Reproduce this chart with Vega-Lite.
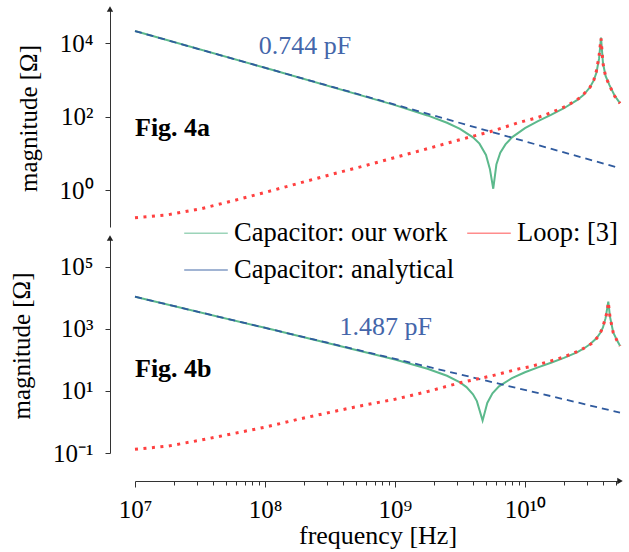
{
  "$schema": "https://vega.github.io/schema/vega-lite/v6.json",
  "autosize": {"type": "none"},
  "padding": {"left": 135, "top": 9, "right": 494, "bottom": 543},
  "bounds": "flush",
  "spacing": 11,
  "config": {
    "font": "Liberation Serif",
    "view": {"stroke": null},
    "axis": {"grid": false, "domainColor": "#333", "tickColor": "#333", "labelColor": "#000", "titleColor": "#000", "labelFont": "Liberation Serif", "titleFont": "Liberation Serif", "titleFontWeight": "normal", "labelFontSize": 25, "titleFontSize": 25, "domainWidth": 1, "tickWidth": 1}
  },
  "datasets": {
    "a": [
      {"s": "Capacitor: analytical", "f": 1e7, "z": 21390},
      {"s": "Capacitor: analytical", "f": 5.383e10, "z": 3.97},
      {"s": "Loop: [3]", "f": 1e7, "z": 0.178},
      {"s": "Loop: [3]", "f": 1.778e7, "z": 0.214},
      {"s": "Loop: [3]", "f": 3.162e7, "z": 0.309},
      {"s": "Loop: [3]", "f": 5.623e7, "z": 0.513},
      {"s": "Loop: [3]", "f": 1e8, "z": 0.871},
      {"s": "Loop: [3]", "f": 1.778e8, "z": 1.514},
      {"s": "Loop: [3]", "f": 3.162e8, "z": 2.63},
      {"s": "Loop: [3]", "f": 5.623e8, "z": 4.47},
      {"s": "Loop: [3]", "f": 1e9, "z": 7.76},
      {"s": "Loop: [3]", "f": 1.778e9, "z": 13.5},
      {"s": "Loop: [3]", "f": 3.162e9, "z": 23.7},
      {"s": "Loop: [3]", "f": 5.623e9, "z": 40.7},
      {"s": "Loop: [3]", "f": 9.12e9, "z": 70.8},
      {"s": "Loop: [3]", "f": 1.259e10, "z": 95.5},
      {"s": "Loop: [3]", "f": 1.585e10, "z": 128.8},
      {"s": "Loop: [3]", "f": 2.089e10, "z": 195},
      {"s": "Loop: [3]", "f": 2.692e10, "z": 339},
      {"s": "Loop: [3]", "f": 3.162e10, "z": 631},
      {"s": "Loop: [3]", "f": 3.388e10, "z": 1000},
      {"s": "Loop: [3]", "f": 3.548e10, "z": 1778},
      {"s": "Loop: [3]", "f": 3.715e10, "z": 4467},
      {"s": "Loop: [3]", "f": 3.846e10, "z": 13490},
      {"s": "Loop: [3]", "f": 3.981e10, "z": 2818},
      {"s": "Loop: [3]", "f": 4.169e10, "z": 1259},
      {"s": "Loop: [3]", "f": 4.467e10, "z": 708},
      {"s": "Loop: [3]", "f": 4.898e10, "z": 363},
      {"s": "Loop: [3]", "f": 5.383e10, "z": 229},
      {"s": "Capacitor: our work", "f": 1e7, "z": 21380},
      {"s": "Capacitor: our work", "f": 1e8, "z": 2138},
      {"s": "Capacitor: our work", "f": 1e9, "z": 207},
      {"s": "Capacitor: our work", "f": 1.778e9, "z": 108.4},
      {"s": "Capacitor: our work", "f": 2.512e9, "z": 68.5},
      {"s": "Capacitor: our work", "f": 3.162e9, "z": 46.8},
      {"s": "Capacitor: our work", "f": 3.981e9, "z": 27.5},
      {"s": "Capacitor: our work", "f": 4.467e9, "z": 18.5},
      {"s": "Capacitor: our work", "f": 5.012e9, "z": 9.12},
      {"s": "Capacitor: our work", "f": 5.37e9, "z": 3.8},
      {"s": "Capacitor: our work", "f": 5.702e9, "z": 1.1},
      {"s": "Capacitor: our work", "f": 6.026e9, "z": 5.0},
      {"s": "Capacitor: our work", "f": 6.457e9, "z": 10.5},
      {"s": "Capacitor: our work", "f": 7.079e9, "z": 17.6},
      {"s": "Capacitor: our work", "f": 7.943e9, "z": 27.5},
      {"s": "Capacitor: our work", "f": 1e10, "z": 49},
      {"s": "Capacitor: our work", "f": 1.259e10, "z": 75.9},
      {"s": "Capacitor: our work", "f": 1.585e10, "z": 112},
      {"s": "Capacitor: our work", "f": 1.995e10, "z": 170},
      {"s": "Capacitor: our work", "f": 2.512e10, "z": 282},
      {"s": "Capacitor: our work", "f": 2.818e10, "z": 389},
      {"s": "Capacitor: our work", "f": 3.162e10, "z": 631},
      {"s": "Capacitor: our work", "f": 3.388e10, "z": 989},
      {"s": "Capacitor: our work", "f": 3.548e10, "z": 1585},
      {"s": "Capacitor: our work", "f": 3.715e10, "z": 3802},
      {"s": "Capacitor: our work", "f": 3.846e10, "z": 14125},
      {"s": "Capacitor: our work", "f": 3.981e10, "z": 2884},
      {"s": "Capacitor: our work", "f": 4.169e10, "z": 1288},
      {"s": "Capacitor: our work", "f": 4.467e10, "z": 724},
      {"s": "Capacitor: our work", "f": 4.898e10, "z": 372},
      {"s": "Capacitor: our work", "f": 5.383e10, "z": 234}
    ],
    "b": [
      {"s": "Capacitor: analytical", "f": 1e7, "z": 10703},
      {"s": "Capacitor: analytical", "f": 5.383e10, "z": 1.988},
      {"s": "Loop: [3]", "f": 1e7, "z": 0.132},
      {"s": "Loop: [3]", "f": 1.778e7, "z": 0.166},
      {"s": "Loop: [3]", "f": 3.162e7, "z": 0.257},
      {"s": "Loop: [3]", "f": 5.623e7, "z": 0.417},
      {"s": "Loop: [3]", "f": 1e8, "z": 0.676},
      {"s": "Loop: [3]", "f": 1.778e8, "z": 1.202},
      {"s": "Loop: [3]", "f": 3.162e8, "z": 2.04},
      {"s": "Loop: [3]", "f": 5.623e8, "z": 3.39},
      {"s": "Loop: [3]", "f": 1e9, "z": 5.37},
      {"s": "Loop: [3]", "f": 1.778e9, "z": 9.48},
      {"s": "Loop: [3]", "f": 3.162e9, "z": 18.2},
      {"s": "Loop: [3]", "f": 5.623e9, "z": 30.9},
      {"s": "Loop: [3]", "f": 9.12e9, "z": 52},
      {"s": "Loop: [3]", "f": 1.096e10, "z": 60.3},
      {"s": "Loop: [3]", "f": 1.479e10, "z": 84.3},
      {"s": "Loop: [3]", "f": 1.95e10, "z": 119.4},
      {"s": "Loop: [3]", "f": 2.57e10, "z": 189.7},
      {"s": "Loop: [3]", "f": 2.985e10, "z": 263},
      {"s": "Loop: [3]", "f": 3.357e10, "z": 368},
      {"s": "Loop: [3]", "f": 3.707e10, "z": 603},
      {"s": "Loop: [3]", "f": 3.954e10, "z": 1059},
      {"s": "Loop: [3]", "f": 4.121e10, "z": 1950},
      {"s": "Loop: [3]", "f": 4.295e10, "z": 3597},
      {"s": "Loop: [3]", "f": 4.375e10, "z": 7079},
      {"s": "Loop: [3]", "f": 4.508e10, "z": 2399},
      {"s": "Loop: [3]", "f": 4.775e10, "z": 741},
      {"s": "Loop: [3]", "f": 5.129e10, "z": 398},
      {"s": "Loop: [3]", "f": 5.383e10, "z": 275},
      {"s": "Capacitor: our work", "f": 1e7, "z": 10703},
      {"s": "Capacitor: our work", "f": 1e8, "z": 1070},
      {"s": "Capacitor: our work", "f": 1e9, "z": 102.3},
      {"s": "Capacitor: our work", "f": 1.778e9, "z": 51.6},
      {"s": "Capacitor: our work", "f": 2.512e9, "z": 30.6},
      {"s": "Capacitor: our work", "f": 3.162e9, "z": 18.8},
      {"s": "Capacitor: our work", "f": 3.548e9, "z": 13.2},
      {"s": "Capacitor: our work", "f": 3.981e9, "z": 7.76},
      {"s": "Capacitor: our work", "f": 4.266e9, "z": 4.68},
      {"s": "Capacitor: our work", "f": 4.721e9, "z": 1.1},
      {"s": "Capacitor: our work", "f": 5.129e9, "z": 4.07},
      {"s": "Capacitor: our work", "f": 5.623e9, "z": 8.3},
      {"s": "Capacitor: our work", "f": 6.31e9, "z": 14.0},
      {"s": "Capacitor: our work", "f": 7.943e9, "z": 25.7},
      {"s": "Capacitor: our work", "f": 1e10, "z": 39.8},
      {"s": "Capacitor: our work", "f": 1.259e10, "z": 57.1},
      {"s": "Capacitor: our work", "f": 1.585e10, "z": 80.5},
      {"s": "Capacitor: our work", "f": 1.995e10, "z": 114.8},
      {"s": "Capacitor: our work", "f": 2.512e10, "z": 173.8},
      {"s": "Capacitor: our work", "f": 2.818e10, "z": 227},
      {"s": "Capacitor: our work", "f": 3.162e10, "z": 316},
      {"s": "Capacitor: our work", "f": 3.548e10, "z": 490},
      {"s": "Capacitor: our work", "f": 3.802e10, "z": 741},
      {"s": "Capacitor: our work", "f": 3.981e10, "z": 1096},
      {"s": "Capacitor: our work", "f": 4.169e10, "z": 2188},
      {"s": "Capacitor: our work", "f": 4.375e10, "z": 7413},
      {"s": "Capacitor: our work", "f": 4.508e10, "z": 2455},
      {"s": "Capacitor: our work", "f": 4.775e10, "z": 759},
      {"s": "Capacitor: our work", "f": 5.129e10, "z": 407},
      {"s": "Capacitor: our work", "f": 5.383e10, "z": 282}
    ]
  },
  "resolve": {"scale": {"x": "independent", "y": "independent", "color": "shared"}, "legend": {"color": "shared"}},
  "vconcat": [
    {
      "width": 485,
      "height": 218,
      "encoding": {
        "x": {"field": "f", "type": "quantitative", "scale": {"type": "log", "domain": [1e7, 5.383e10], "nice": false}, "axis": null},
        "y": {"field": "z", "type": "quantitative", "scale": {"type": "log", "domain": [0.1, 85110], "nice": false},
          "axis": {"offset": 25, "values": [1, 100, 10000], "labelExpr": "datum.value < 10 ? '10⁰' : datum.value < 1000 ? '10²' : '10⁴'", "title": "magnitude [Ω]", "tickSize": 5, "labelPadding": 12, "titlePadding": 18}}
      },
      "layer": [
        {
          "data": {"name": "a"},
          "transform": [{"filter": "datum.s == 'Capacitor: our work'"}],
          "mark": {"type": "line", "strokeWidth": 2},
          "encoding": {"color": {"field": "s", "type": "nominal",
            "scale": {"domain": ["Capacitor: our work", "Capacitor: analytical", "Loop: [3]"], "range": ["#5cb98c", "#2f5a9e", "#ff4040"]},
            "legend": {"title": null, "orient": "none", "legendX": 48, "legendY": 201, "columns": 2, "columnPadding": 10, "rowPadding": -1, "symbolType": "stroke", "symbolSize": 1900, "symbolStrokeWidth": 1.5, "symbolOpacity": 0.6, "symbolDash": [], "labelFontSize": 26.5, "labelFont": "Liberation Serif", "labelColor": "#000", "labelOffset": 5, "labelLimit": 500}}}
        },
        {
          "data": {"name": "a"},
          "transform": [{"filter": "datum.s == 'Capacitor: analytical'"}],
          "mark": {"type": "line", "strokeWidth": 1.8, "strokeDash": [7, 5]},
          "encoding": {"color": {"field": "s", "type": "nominal", "scale": {"domain": ["Capacitor: our work", "Capacitor: analytical", "Loop: [3]"], "range": ["#5cb98c", "#2f5a9e", "#ff4040"]}}}
        },
        {
          "data": {"name": "a"},
          "transform": [{"filter": "datum.s == 'Loop: [3]'"}],
          "mark": {"type": "line", "strokeWidth": 3, "strokeDash": [3, 5.5], "strokeCap": "butt"},
          "encoding": {"color": {"field": "s", "type": "nominal", "scale": {"domain": ["Capacitor: our work", "Capacitor: analytical", "Loop: [3]"], "range": ["#5cb98c", "#2f5a9e", "#ff4040"]}}}
        },
        {
          "data": {"values": [{"t": "0.744 pF", "f": 2.03e8, "z": 8318}]},
          "mark": {"type": "text", "fontSize": 26, "color": "#4466aa", "align": "center", "baseline": "middle"},
          "encoding": {"text": {"field": "t"}}
        },
        {
          "data": {"values": [{"t": "Fig. 4a", "f": 1e7, "z": 49}]},
          "mark": {"type": "text", "fontSize": 26, "fontWeight": "bold", "color": "#000", "align": "left", "baseline": "middle"},
          "encoding": {"text": {"field": "t"}}
        },
        {
          "data": {"values": [{"f": 1e7, "z": 85110}]},
          "mark": {"type": "point", "shape": "triangle-up", "filled": true, "size": 40, "color": "#222", "opacity": 1, "xOffset": -25}
        }
      ]
    },
    {
      "width": 485,
      "height": 215,
      "encoding": {
        "x": {"field": "f", "type": "quantitative", "scale": {"type": "log", "domain": [1e7, 5.383e10], "nice": false},
          "axis": {"offset": 28, "title": "frequency [Hz]", "titleFontSize": 26,
            "values": [1e7, 2e7, 3e7, 4e7, 5e7, 6e7, 7e7, 8e7, 9e7, 1e8, 2e8, 3e8, 4e8, 5e8, 6e8, 7e8, 8e8, 9e8, 1e9, 2e9, 3e9, 4e9, 5e9, 6e9, 7e9, 8e9, 9e9, 1e10, 2e10, 3e10, 4e10, 5e10],
            "labelExpr": "abs(log(datum.value)/LN10 - round(log(datum.value)/LN10)) > 0.01 ? '' : datum.value < 5e7 ? '10⁷' : datum.value < 5e8 ? '10⁸' : datum.value < 5e9 ? '10⁹' : '10¹⁰'",
            "tickSize": {"condition": {"test": "abs(log(datum.value)/LN10 - round(log(datum.value)/LN10)) < 0.01", "value": 6}, "value": 4},
            "labelOverlap": false, "labelFlush": false, "labelBound": false, "labelPadding": 10, "titlePadding": 0}},
        "y": {"field": "z", "type": "quantitative", "scale": {"type": "log", "domain": [0.1, 831800], "nice": false},
          "axis": {"offset": 25, "values": [0.1, 10, 1000, 100000], "labelExpr": "datum.value < 1 ? '10⁻¹' : datum.value < 100 ? '10¹' : datum.value < 10000 ? '10³' : '10⁵'", "title": "magnitude [Ω]", "tickSize": 5, "labelPadding": 12, "titlePadding": 18}}
      },
      "layer": [
        {
          "data": {"name": "b"},
          "transform": [{"filter": "datum.s == 'Capacitor: our work'"}],
          "mark": {"type": "line", "strokeWidth": 2},
          "encoding": {"color": {"field": "s", "type": "nominal", "scale": {"domain": ["Capacitor: our work", "Capacitor: analytical", "Loop: [3]"], "range": ["#5cb98c", "#2f5a9e", "#ff4040"]}}}
        },
        {
          "data": {"name": "b"},
          "transform": [{"filter": "datum.s == 'Capacitor: analytical'"}],
          "mark": {"type": "line", "strokeWidth": 1.8, "strokeDash": [7, 5]},
          "encoding": {"color": {"field": "s", "type": "nominal", "scale": {"domain": ["Capacitor: our work", "Capacitor: analytical", "Loop: [3]"], "range": ["#5cb98c", "#2f5a9e", "#ff4040"]}}}
        },
        {
          "data": {"name": "b"},
          "transform": [{"filter": "datum.s == 'Loop: [3]'"}],
          "mark": {"type": "line", "strokeWidth": 3, "strokeDash": [3, 5.5], "strokeCap": "butt"},
          "encoding": {"color": {"field": "s", "type": "nominal", "scale": {"domain": ["Capacitor: our work", "Capacitor: analytical", "Loop: [3]"], "range": ["#5cb98c", "#2f5a9e", "#ff4040"]}}}
        },
        {
          "data": {"values": [{"t": "1.487 pF", "f": 8.5e8, "z": 1096}]},
          "mark": {"type": "text", "fontSize": 26, "color": "#4466aa", "align": "center", "baseline": "middle"},
          "encoding": {"text": {"field": "t"}}
        },
        {
          "data": {"values": [{"t": "Fig. 4b", "f": 1e7, "z": 50}]},
          "mark": {"type": "text", "fontSize": 26, "fontWeight": "bold", "color": "#000", "align": "left", "baseline": "middle"},
          "encoding": {"text": {"field": "t"}}
        },
        {
          "data": {"values": [{"f": 1e7, "z": 831800}]},
          "mark": {"type": "point", "shape": "triangle-up", "filled": true, "size": 40, "color": "#222", "opacity": 1, "xOffset": -25}
        },
        {
          "data": {"values": [{"f": 5.383e10, "z": 0.1}]},
          "mark": {"type": "point", "shape": "triangle-right", "filled": true, "size": 40, "color": "#222", "opacity": 1, "yOffset": 28}
        }
      ]
    }
  ]
}
